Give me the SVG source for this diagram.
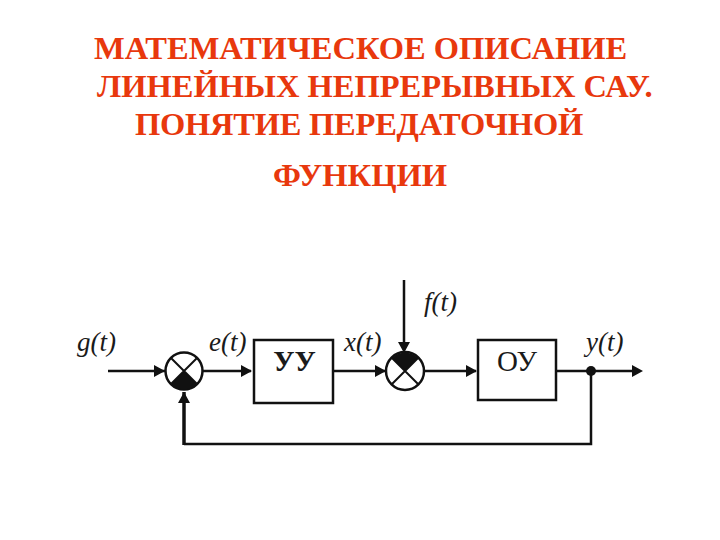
<svg xmlns="http://www.w3.org/2000/svg" width="720" height="540" viewBox="0 0 720 540">
<style>
.t{font:bold 32.5px "Liberation Serif","Noto Sans CJK SC",serif;fill:#e8380d}
.l{font:italic 27px "Liberation Serif",serif;fill:#1a1a1a}
.b{fill:#fff;stroke:#111;stroke-width:2.5}
.c{fill:#fff;stroke:#111;stroke-width:2.5}
.x{stroke:#111;stroke-width:2;fill:none}
.w{stroke:#111;stroke-width:2.5;fill:none}
.a{fill:#111}
</style>
<rect width="720" height="540" fill="#fff"/>
<g id="title">
<text class="t" x="94" y="59">МАТЕМАТИЧЕСКОЕ ОПИСАНИЕ</text>
<text class="t" x="97" y="97">ЛИНЕЙНЫХ НЕПРЕРЫВНЫХ САУ.</text>
<text class="t" x="135" y="135" letter-spacing="-0.25">ПОНЯТИЕ ПЕРЕДАТОЧНОЙ</text>
<text class="t" x="273" y="186">ФУНКЦИИ</text>
</g>
<g id="connectors">
<path class="w" d="M108 371H165M203 371H251M333 371H386M424 371H476M556 371H638M404 280V350M591 371V444H184"/>
<path class="w" style="stroke-width:3.5" d="M184 445V392"/>
<path class="a" d="M165 371l-11-6v12zM252 371l-11-6v12zM386 371l-11-6v12zM477 371l-11-6v12zM643 371l-11-6v12zM404 353l-6-11h12zM184 392l-6 11h12z"/>
<circle id="junction" class="a" cx="591" cy="371" r="5"/>
</g>
<g id="sum1">
<circle class="c" cx="184" cy="371" r="18.5"/>
<path class="a" d="M184 371L171 384A18.5 18.5 0 0 0 197 384Z"/>
<path class="x" d="M171 358L197 384M197 358L171 384"/>
</g>
<g id="sum2">
<circle class="c" cx="405" cy="371" r="19"/>
<path class="a" d="M405 371L392 358A18.5 18.5 0 0 1 418 358Z"/>
<path class="x" d="M392 358L418 384M418 358L392 384"/>
</g>
<g id="uu">
<rect class="b" x="254" y="340" width="79" height="63"/>
<text x="294.500" y="371" text-anchor="middle" style="font:bold 29px 'Liberation Serif',serif;fill:#1a1a1a">УУ</text>
</g>
<g id="ou">
<rect class="b" x="478" y="340" width="78" height="60"/>
<text x="517" y="371" text-anchor="middle" style="font:29px 'Liberation Serif',serif;fill:#1a1a1a">ОУ</text>
</g>
<g id="labels">
<text class="l" x="77" y="351">g(t)</text>
<text class="l" x="209" y="351">e(t)</text>
<text class="l" x="344" y="351">x(t)</text>
<text class="l" x="424" y="311">f(t)</text>
<text class="l" x="586" y="351">y(t)</text>
</g>
</svg>
